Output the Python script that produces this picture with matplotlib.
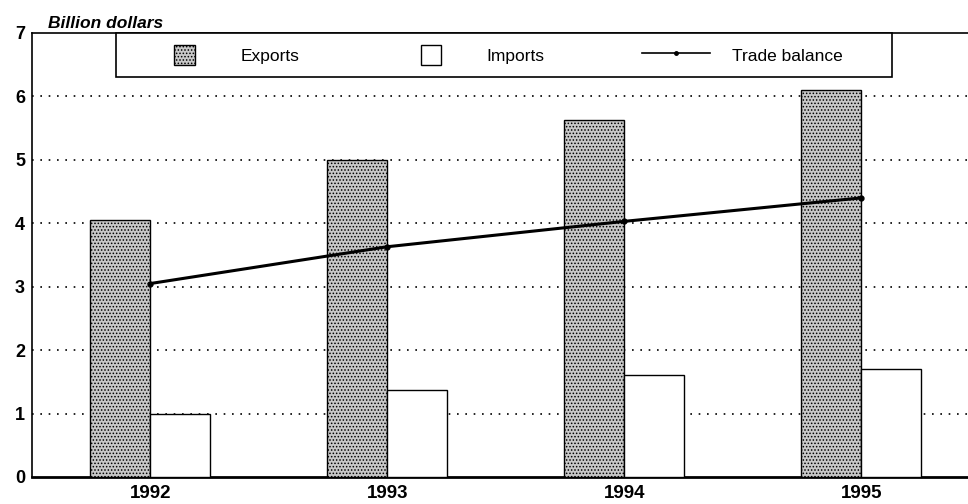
import matplotlib
matplotlib.use('Agg')
import matplotlib.pyplot as plt
import matplotlib.patches as mpatches
from matplotlib.legend_handler import HandlerPatch
import numpy as np

years = ['1992', '1993', '1994', '1995']
exports = [4.05, 5.0, 5.63, 6.1]
imports = [1.0, 1.37, 1.6, 1.7]
trade_balance = [3.05, 3.63, 4.03, 4.4]

plt.rcParams['font.family'] = ['Liberation Sans', 'DejaVu Sans']
plt.rcParams['hatch.color'] = '#222222'
plt.rcParams['hatch.linewidth'] = 0.7

fig = plt.figure(figsize=(9.68, 5.04), dpi=100)
ax = fig.add_axes([0.033, 0.0536, 0.967, 0.881])

x = np.arange(len(years))
w = 0.253

b_exp = ax.bar(x - w / 2, exports, width=w, facecolor='#c8c8c8', edgecolor='black',
               hatch='.....', linewidth=1.0, zorder=3)
b_imp = ax.bar(x + w / 2, imports, width=w, facecolor='white', edgecolor='black',
               linewidth=1.0, zorder=3)
l_tb, = ax.plot(x, trade_balance, color='black', linewidth=2.2, marker='o', markersize=3.5,
                zorder=4)

ax.set_ylim(0, 7)
ax.set_xlim(-0.5, 3.45)
ax.set_yticks(range(8))
ax.set_xticks(x)
ax.set_xticklabels(years)
ax.tick_params(axis='x', length=0, labelsize=13.5, pad=6)
ax.tick_params(axis='y', length=0, labelsize=13, pad=5)
for lab in ax.get_xticklabels() + ax.get_yticklabels():
    lab.set_fontweight('bold')

for v in range(1, 7):
    ax.axhline(v, color='black', linestyle=(0, (1, 4)), linewidth=1.2, zorder=1)

ax.spines['right'].set_visible(False)
for s in ['left', 'top']:
    ax.spines[s].set_linewidth(1.2)
ax.spines['bottom'].set_linewidth(2)

ax.text(0.017, 1.005, 'Billion dollars', transform=ax.transAxes, fontsize=12.5,
        fontweight='bold', fontstyle='italic', va='bottom', ha='left')


# square legend keys centred in a wide handle box
def square_patch(legend, orig_handle, xdescent, ydescent, width, height, fontsize):
    s = height
    return mpatches.Rectangle((width / 2 - s / 2 - xdescent, -ydescent), s, s)


# legend frame drawn separately (top edge sits on the axes top)
frame = mpatches.Rectangle((0.0897, 0.9009), 0.829, 0.0991, transform=ax.transAxes,
                           facecolor='white', edgecolor='black', linewidth=1.2,
                           zorder=5, clip_on=False)
ax.add_patch(frame)

h_exp = b_exp.patches[0]
h_imp = b_imp.patches[0]
leg = ax.legend([h_exp, h_imp, l_tb], ['Exports', 'Imports', 'Trade balance'],
                loc='center left', bbox_to_anchor=(0.1266, 0.950), ncol=3,
                frameon=False, fontsize=12.5, borderpad=0, borderaxespad=0,
                handlelength=3.92, handleheight=1.4, handletextpad=1.27,
                columnspacing=5.6,
                handler_map={h_exp: HandlerPatch(patch_func=square_patch),
                             h_imp: HandlerPatch(patch_func=square_patch)})
leg.set_zorder(6)
leg.legend_handles[2].set_markersize(2.5)
leg.legend_handles[2].set_linewidth(1.2)

fig.savefig('out.png', dpi=100)
